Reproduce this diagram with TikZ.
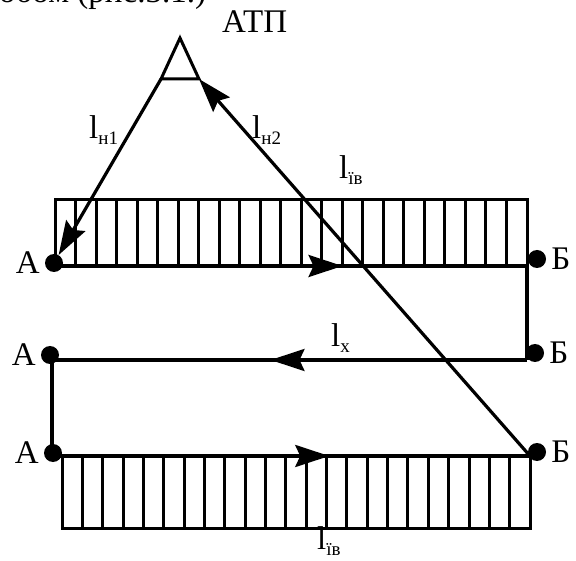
\documentclass[tikz,border=0pt]{standalone}
\usepackage{fontspec}
\setmainfont{Liberation Serif}
\usetikzlibrary{arrows.meta,positioning,decorations.markings}

\tikzset{
  dot/.style={circle,fill=black,inner sep=0pt,minimum size=18pt},
  lbl/.style={font=\fontsize{33}{36}\selectfont,inner sep=1pt},
  route/.style={line width=3.2pt},
  hatch/.style={line width=3pt},
  tip/.style={-{Stealth[length=34pt,width=22pt,inset=5pt]}},
  midarrow/.style={postaction={decorate},
    decoration={markings,mark=at position #1 with
      {\arrow{Stealth[length=34pt,width=22pt,inset=5pt]}}}},
}
\newcommand{\seglen}[1]{l\raisebox{-6pt}{\fontsize{19}{20}\selectfont #1}}

\begin{document}
\begin{tikzpicture}[x=1pt,y=-1pt]
  \useasboundingbox (0,0) rectangle (576,561);

  % --- clipped caption line at the top ---
  \node[lbl,anchor=base west] (cap) at (-2,3) {обом (рис.3.1.)};

  % --- depot ---
  \coordinate (atpT) at (180,38);
  \coordinate (atpL) at (161,79);
  \coordinate (atpR) at (199,79);
  \draw[hatch,line join=miter] (atpT) -- (atpL) -- (atpR) -- cycle;
  \node[lbl,anchor=base west] (atp) at (221,33) {АТП};

  % --- route corners ---
  \coordinate (cA1) at (54,266);
  \coordinate (cB1) at (527,266);
  \coordinate (cB2) at (527,360);
  \coordinate (cA2) at (52,360);
  \coordinate (cA3) at (52,456);
  \coordinate (cB3) at (530,456);

  % --- loaded runs (hatched) ---
  \draw[hatch] (55,200) rectangle (cB1);
  \foreach \k in {1,...,22}
    \draw[hatch] (55+\k*20.52,200) -- (55+\k*20.52,266);
  \draw[hatch] (62,456) rectangle (530,528);
  \foreach \k in {1,...,22}
    \draw[hatch] (62+\k*20.35,456) -- (62+\k*20.35,528);

  % --- points ---
  \node[dot] (dA1) at (54,263) {};
  \node[dot] (dB1) at (537,259) {};
  \node[dot] (dB2) at (535,353) {};
  \node[dot] (dA2) at (50,355) {};
  \node[dot] (dA3) at (53,453) {};
  \node[dot] (dB3) at (537,452) {};
  \node[lbl,left=4pt of dA1] {А};
  \node[lbl,left=4pt of dA2] {А};
  \node[lbl,left=4pt of dA3] {А};
  \node[lbl,right=4pt of dB1] {Б};
  \node[lbl,right=4pt of dB2] {Б};
  \node[lbl,right=4pt of dB3] {Б};

  % --- route ---
  \draw[route,midarrow=0.61] (cA1) -- (cB1);
  \draw[route] (cB1) -- (cB2);
  \draw[route,midarrow=0.54] (cB2) -- (cA2);
  \draw[route] (cA2) -- (cA3);
  \draw[route,midarrow=0.58] (cA3) -- (cB3);

  % --- zero runs ---
  \draw[route,tip] (atpL) -- (dA1);
  \draw[route,tip] (cB3) -- (atpR);

  % --- run labels ---
  \node[lbl,anchor=base west] at (88,139) {\seglen{н1}};
  \node[lbl,anchor=base west] at (251,139) {\seglen{н2}};
  \node[lbl,anchor=base west] at (338,179) {\seglen{їв}};
  \node[lbl,anchor=base west] at (330,347) {\seglen{x}};
  \node[lbl,anchor=base west] at (316,549) {\seglen{їв}};
\end{tikzpicture}
\end{document}
